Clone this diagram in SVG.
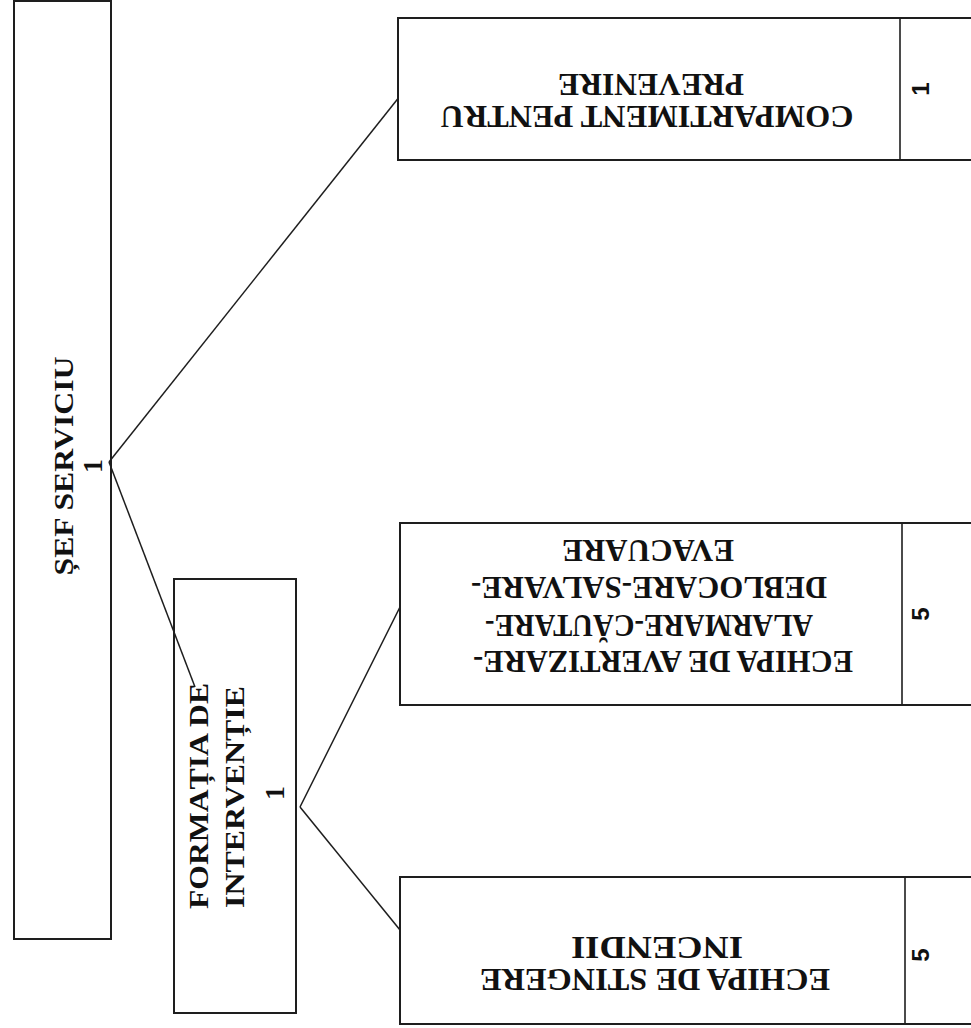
<svg xmlns="http://www.w3.org/2000/svg" width="971" height="1028" viewBox="0 0 971 1028">
<style>
.box{fill:#fff;stroke:#1e1e1e;stroke-width:2}
.div{stroke:#1e1e1e;stroke-width:1.6}
.con{stroke:#1e1e1e;stroke-width:1.5;fill:none}
.t{font-family:"Liberation Serif","Times New Roman",serif;font-weight:bold;fill:#111}
.r{font-size:31px}
.v{font-size:28px}
.n{font-family:"Liberation Sans",Arial,sans-serif;font-weight:bold;font-size:24px;fill:#111}
</style>
<rect width="971" height="1028" fill="#fff"/>
<g id="connectors">
<line class="con" x1="109" y1="462" x2="400" y2="96"/>
<line class="con" x1="109" y1="462" x2="195" y2="687"/>
<line class="con" x1="300" y1="807" x2="402" y2="603"/>
<line class="con" x1="300" y1="807" x2="400" y2="930"/>
</g>
<g id="sef-serviciu">
<rect class="box" x="14" y="1" width="97" height="938" style="fill:none"/>
<text class="t v" transform="translate(73,466) rotate(-90)" text-anchor="middle" textLength="219" lengthAdjust="spacingAndGlyphs">ȘEF SERVICIU</text>
<text class="t v" transform="translate(102,466) rotate(-90)" text-anchor="middle">1</text>
</g>
<g id="formatia">
<rect class="box" x="174" y="579" width="122" height="434" style="fill:none"/>
<text class="t v" transform="translate(208,796) rotate(-90)" text-anchor="middle" textLength="226" lengthAdjust="spacingAndGlyphs">FORMAȚIA DE</text>
<text class="t v" transform="translate(244,797) rotate(-90)" text-anchor="middle" textLength="222" lengthAdjust="spacingAndGlyphs">INTERVENȚIE</text>
<text class="t v" transform="translate(284,793) rotate(-90)" text-anchor="middle">1</text>
</g>
<g id="compartiment">
<rect class="box" x="398" y="18" width="580" height="142"/>
<line class="div" x1="900" y1="18" x2="900" y2="160"/>
<text class="t r" transform="translate(647,106) rotate(180)" text-anchor="middle" textLength="413" lengthAdjust="spacingAndGlyphs">COMPARTIMENT PENTRU</text>
<text class="t r" transform="translate(651,74) rotate(180)" text-anchor="middle" textLength="186" lengthAdjust="spacingAndGlyphs">PREVENIRE</text>
<text class="n" transform="translate(929,89) rotate(-90)" text-anchor="middle">1</text>
</g>
<g id="echipa-avertizare">
<rect class="box" x="400" y="523" width="578" height="182"/>
<line class="div" x1="902" y1="523" x2="902" y2="705"/>
<text class="t r" transform="translate(663,651) rotate(180)" text-anchor="middle" textLength="380" lengthAdjust="spacingAndGlyphs">ECHIPA DE  AVERTIZARE-</text>
<text class="t r" transform="translate(649,615) rotate(180)" text-anchor="middle" textLength="328" lengthAdjust="spacingAndGlyphs">ALARMARE-CĂUTARE-</text>
<text class="t r" transform="translate(649,577) rotate(180)" text-anchor="middle" textLength="356" lengthAdjust="spacingAndGlyphs">DEBLOCARE-SALVARE-</text>
<text class="t r" transform="translate(648,540) rotate(180)" text-anchor="middle" textLength="172" lengthAdjust="spacingAndGlyphs">EVACUARE</text>
<text class="n" transform="translate(929,614) rotate(-90)" text-anchor="middle">5</text>
</g>
<g id="echipa-stingere">
<rect class="box" x="400" y="877" width="578" height="147"/>
<line class="div" x1="905" y1="877" x2="905" y2="1024"/>
<text class="t r" transform="translate(655,969) rotate(180)" text-anchor="middle" textLength="350" lengthAdjust="spacingAndGlyphs">ECHIPA DE STINGERE</text>
<text class="t r" transform="translate(657,937) rotate(180)" text-anchor="middle" textLength="172" lengthAdjust="spacingAndGlyphs">INCENDII</text>
<text class="n" transform="translate(929,955) rotate(-90)" text-anchor="middle">5</text>
</g>
</svg>
